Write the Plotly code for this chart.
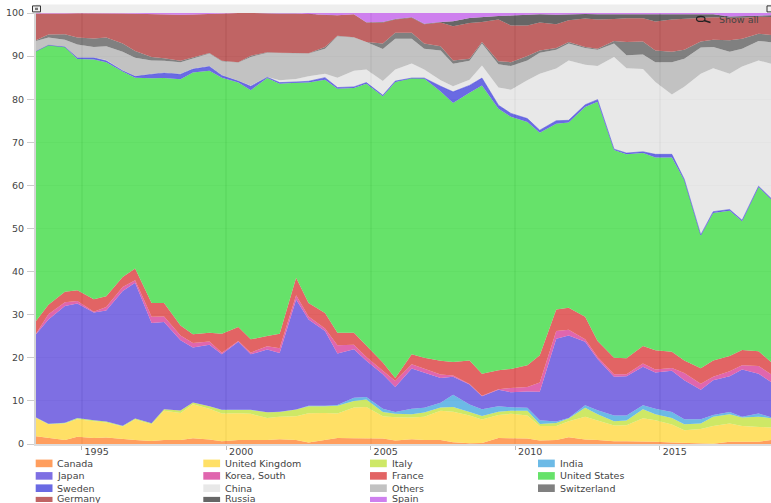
import numpy as np
import plotly.graph_objects as go

# period positions (fractional years)
periods = [
    1993.42, 1993.85, 1994.42, 1994.85, 1995.42, 1995.85, 1996.42, 1996.85, 1997.42, 1997.85,
    1998.42, 1998.85, 1999.42, 1999.85, 2000.42, 2000.85, 2001.42, 2001.85, 2002.42, 2002.85,
    2003.42, 2003.85, 2004.42, 2004.85, 2005.42, 2005.85, 2006.42, 2006.85, 2007.42, 2007.85,
    2008.42, 2008.85, 2009.42, 2009.85, 2010.42, 2010.85, 2011.42, 2011.85, 2012.42, 2012.85,
    2013.42, 2013.85, 2014.42, 2014.85, 2015.42, 2015.85, 2016.42, 2016.85, 2017.42, 2017.85,
    2018.42, 2018.85]

# upper edge of each stacked band (percent)
canada_top = [1.8,1.35,.9,1.7,1.4,1.5,1.1,.9,.7,.9,.95,1.35,1.05,.65,.95,.9,
    .95,1.1,.9,.35,.9,1.4,1.35,1.25,1.25,.8,1.1,.9,.95,.4,.2,.25,1.4,1.35,
    1.25,.8,.95,1.55,1.05,.95,.65,.65,.65,.5,.35,.25,.02,.05,.55,.5,.55,.95]
uk_top = [6.05,4.6,4.75,5.75,5.3,5,4.05,5.7,4.6,7.7,7.2,9.2,8.15,7.05,7.15,7,
    6.05,6.35,6.45,7.15,7.2,7.05,8.45,8.6,6.45,6.2,6.15,6.3,7.7,7.5,6.6,5.7,6.75,7,
    6.6,4.2,4.15,5.3,6.3,5.5,4.3,4.35,6,5.5,4.5,3.2,3.5,4.15,4.75,4.2,4,3.8]
italy_top = [6.15,4.65,4.9,6,5.5,5.2,4.2,5.9,4.8,8.05,7.75,9.6,8.75,7.9,7.9,7.9,
    7.35,7.45,8,8.75,8.75,8.85,10,10.3,7.45,7,6.9,7.3,8.45,8.6,7.4,6.5,7.5,7.7,
    7.7,4.65,4.9,5.9,8.4,6.9,5.3,5.45,8.05,6.9,6.05,4.6,4.75,6.3,6.9,6.15,6.35,6]
india_top = [6.17,4.67,4.92,6.02,5.52,5.22,4.22,5.92,4.82,8.07,7.77,9.62,8.77,7.92,7.92,7.92,
    7.37,7.47,8.02,8.85,8.9,9.05,10.75,10.9,8.2,7.45,8.2,8.4,9.55,11.45,9.15,8.05,8.75,8.5,
    8.4,5.5,5.2,6.05,9,7.85,6.6,6.6,9,8.15,7.45,5.75,5.75,6.7,7.4,6.35,7.05,6.2]
japan_top = [25.45,28.9,32,32.6,30.5,31,35.5,37.4,28.1,28.3,24.1,22.4,23.05,20.8,23.7,20.8,
    21.9,21.1,33.5,28.9,26.2,21,22,19.3,16.2,13.2,17.5,16.5,15.3,15.6,13.8,11.1,12.6,12,
    12.2,12.1,24.4,25.2,23.7,19.7,15.6,15.7,17.9,16.6,17,14.8,12.6,14.8,15.7,17.3,16.3,14.4]
korea_top = [25.6,30.1,32.9,33.2,30.7,31.8,36.4,38,29.5,29.6,25.2,23.45,23.8,21.2,23.9,21.2,
    22.7,22.2,34.5,29.6,26.8,22.9,23,20.2,17,14.6,18.5,17.4,16.1,15.9,13.9,11.2,12.7,13,
    13.2,14.25,26.2,26.5,24.3,20.2,16.2,16.2,18.65,17.3,17.65,16.5,14,15.6,16.9,18.3,18.1,16.2]
france_top = [28.55,32.3,35.3,35.65,33.6,34.3,38.75,40.7,32.7,32.7,27.5,25.45,25.8,25.6,27.15,24.3,
    25.05,25.6,38.6,32.7,30.4,25.8,25.8,22.8,18.9,15.3,20.8,20,19.3,19,19.4,16.3,17.1,17.4,
    18.3,20.6,31.2,31.6,29.5,23.9,20,19.9,22.75,21.75,21.4,19.4,17.6,19.4,20.4,21.8,21.5,19]
us_top = [91.1,92.5,92.1,89.3,89.2,88.6,86.4,85,84.85,84.9,84.6,86.2,86.6,85,83.85,82.1,
    84.9,83.6,83.8,83.85,84.5,82.4,82.6,83.6,80.7,84,84.85,84.8,81.8,79.1,81.5,83.2,77.8,75.9,
    74.7,72.2,74.3,74.6,78.2,79.4,68.2,67.2,67.5,66.5,66.5,61.2,48.4,53.6,54.1,51.7,59.6,56.8]
sweden_top = [91.15,92.55,92.15,89.6,89.6,88.9,86.6,85.3,85.8,86.1,85.8,87,87.6,85.5,84.2,83,
    85.1,83.85,84,84.15,85,82.7,82.85,83.85,80.9,84.2,84.9,84.9,83,81.7,83.2,84.9,78.6,76.7,
    75.5,72.8,75,75.1,78.7,79.9,68.4,67.5,67.8,67.2,67.2,61.4,48.5,53.9,54.4,51.9,59.8,57]
china_top = [91.2,92.6,92.2,89.65,89.65,89.1,86.7,85.4,85.9,86.2,85.9,87.1,87.7,85.6,84.3,83.2,
    85.15,84.4,84.7,85.3,85.9,85,86.6,86.9,84.2,86.9,88.3,86.9,84.4,83,84.5,87.8,82.7,82.2,
    84.4,85.9,87.1,89,88,87.7,89.8,87.2,87,84,81.1,82.9,85.9,87.2,85.9,87.6,89,88.2]
others_top = [93.5,94.3,93.8,92.7,92.1,92.3,91,89.6,89,88.95,88.6,89.4,90.6,88.8,88.5,89.8,
    90.8,90.7,90.6,90.6,91.7,94.6,94.3,93.3,91.65,94,94,91.7,91.3,88.25,88.9,92.9,88.1,87.7,
    89,90.8,91.5,92.9,91.9,91.5,92.9,90.2,90.4,88.6,88.6,89.4,92,92.1,91,91.7,93.5,93.2]
switzerland_top = [93.7,95,95.05,94.3,94.1,94.3,92.9,91.2,89.8,89.5,88.9,89.6,90.7,88.95,88.6,90.1,
    90.9,90.75,90.65,90.65,92.1,94.7,94.4,93.3,92.9,95.4,95.4,92.9,92.3,89,89.4,93.3,88.8,88.6,
    90,91.3,91.9,93.3,92.1,91.7,93.5,93.3,93.4,91.3,91,91.5,93.4,93.8,93.7,94,95.2,94.9]
germany_top = [99.9,99.85,99.9,99.95,99.95,100,99.9,99.8,99.7,99.6,99.6,99.65,99.8,100,100,100,
    99.85,99.85,99.85,99.8,99.55,99.5,99.7,97.8,97.8,98.5,98.9,97.4,97.8,96.9,97.7,97.9,98.5,97.1,
    97.1,97.8,97.4,98.3,98.7,98.5,98.6,98.8,98.8,98,98.5,98.7,98.8,99,98.9,98.9,99.15,99.1]
russia_top = [99.9,99.85,99.9,99.95,99.95,100,99.9,99.8,99.7,99.6,99.6,99.65,99.8,100,100,100,
    99.85,99.9,99.9,99.8,99.6,99.5,99.7,97.85,97.9,98.6,99,97.5,97.9,98.1,98.85,99.1,99.3,99.4,
    99.5,99.7,99.6,99.7,99.75,99.7,99.7,99.7,99.7,99.6,99.6,99.7,99.75,99.7,99.2,99.3,99.4,99.45]
spain_top = [100] * 52

series_names = ["Canada", "United Kingdom", "Italy", "India", "Japan", "Korea, South", "France",
                "United States", "Sweden", "China", "Others", "Switzerland", "Germany", "Russia", "Spain"]
series_tops = [canada_top, uk_top, italy_top, india_top, japan_top, korea_top, france_top, us_top,
               sweden_top, china_top, others_top, switzerland_top, germany_top, russia_top, spain_top]
series_rgb = ["255,134,54", "255,216,64", "194,226,64", "71,169,224", "94,75,220", "216,64,154",
              "219,61,61", "64,219,69", "69,69,220", "226,226,226", "179,179,179", "96,96,96",
              "176,61,61", "64,64,64", "194,96,234"]

y_ticks = [0, 10, 20, 30, 40, 50, 60, 70, 80, 90, 100]
x_ticks = [1995, 2000, 2005, 2010, 2015]

W, H = 771, 503
L, R, T, B = 36.0, 771.0, 12.6, 443.8
FONT = "DejaVu Sans"
TXT = "#444444"


def px(v):
    return (v - L) / (R - L)


def py(v):
    return (B - v) / (B - T)


fig = go.Figure()
previous = np.zeros(len(periods))
for name, top, rgb in zip(series_names, series_tops, series_rgb):
    top = np.array(top, dtype=float)
    share = np.clip(top - previous, 0, None)
    previous = top
    fig.add_trace(go.Scatter(x=periods, y=share, name=name, mode="lines", stackgroup="one",
                             line=dict(width=0.7 if name == "Sweden" else 0, color=f"rgba({rgb},0.8)"),
                             fillcolor=f"rgba({rgb},0.8)", showlegend=False))

shapes = []
annotations = []


def rect(x0, y0, x1, y1, fill, line=None, lw=0):
    shapes.append(dict(type="rect", xref="paper", yref="paper", x0=px(x0), x1=px(x1), y0=py(y1), y1=py(y0),
                       fillcolor=fill, line=dict(color=line or fill, width=lw), layer="above"))


# scrollbar strip and grips
rect(36, 4, 771, 12.6, "#eeeeee")
rect(32.5, 5.5, 40.5, 11.5, "#f2f2f2", "#333333", 1)
rect(35, 7.3, 38, 9.7, "#777777")
rect(767, 5.5, 772, 11.5, "#f2f2f2", "#333333", 1)

# zoom-out control
shapes.append(dict(type="circle", xref="paper", yref="paper", x0=px(696.5), x1=px(705), y0=py(21),
                   y1=py(16), line=dict(color="#222222", width=1.2), fillcolor="rgba(0,0,0,0)"))
shapes.append(dict(type="line", xref="paper", yref="paper", x0=px(704), x1=px(710.5), y0=py(20),
                   y1=py(22), line=dict(color="#222222", width=1.6)))
annotations.append(dict(xref="paper", yref="paper", x=px(717), y=py(19.5), xanchor="left", yanchor="middle",
                        text="Show all", showarrow=False, font=dict(family=FONT, size=9.5, color=TXT)))

# legend
col_x = [35.7, 203.3, 370, 538]
row_y = [463.2, 475.7, 488, 498]
for i, (name, rgb) in enumerate(zip(series_names, series_rgb)):
    c, r = i % 4, i // 4
    top_edge = row_y[r] - 3.8 if r < 3 else 496.7
    rect(col_x[c], top_edge, col_x[c] + 16.8, min(row_y[r] + 3.8, 503), f"rgba({rgb},0.8)")
    annotations.append(dict(xref="paper", yref="paper", x=px(col_x[c] + 19.5), y=py(row_y[r]), xanchor="left",
                            yanchor="middle", text=name, showarrow=False,
                            font=dict(family=FONT, size=9.5, color=TXT)))

fig.update_layout(
    width=W, height=H, autosize=False,
    margin=dict(l=L, r=W - R, t=T, b=H - B, pad=0),
    paper_bgcolor="white", plot_bgcolor="white", showlegend=False,
    shapes=shapes, annotations=annotations,
    xaxis=dict(range=[1993.42, 2018.85], tickmode="array", tickvals=x_ticks, ticktext=[str(v) for v in x_ticks],
               ticks="outside", ticklen=4, tickcolor="#bbbbbb", tickwidth=1, ticklabelshift=15, ticklabelstandoff=-6,
               tickfont=dict(family=FONT, size=9.5, color=TXT),
               showgrid=True, gridcolor="rgba(0,0,0,0.14)", gridwidth=1.5,
               showline=True, linecolor="#dddddd", linewidth=2, zeroline=False, fixedrange=True),
    yaxis=dict(range=[0, 100], tickmode="array", tickvals=y_ticks, ticktext=[str(v) for v in y_ticks],
               ticks="outside", ticklen=7, tickcolor="#cccccc", tickwidth=1, ticklabelstandoff=1,
               tickfont=dict(family=FONT, size=9.5, color=TXT),
               showgrid=True, gridcolor="rgba(0,0,0,0.08)", gridwidth=1,
               showline=True, linecolor="#d5d5d5", linewidth=2, zeroline=False, fixedrange=True),
)

fig.write_html("out.html", config=dict(displayModeBar=False),
               post_script="document.body.style.margin='0';document.documentElement.style.overflow='hidden';")
